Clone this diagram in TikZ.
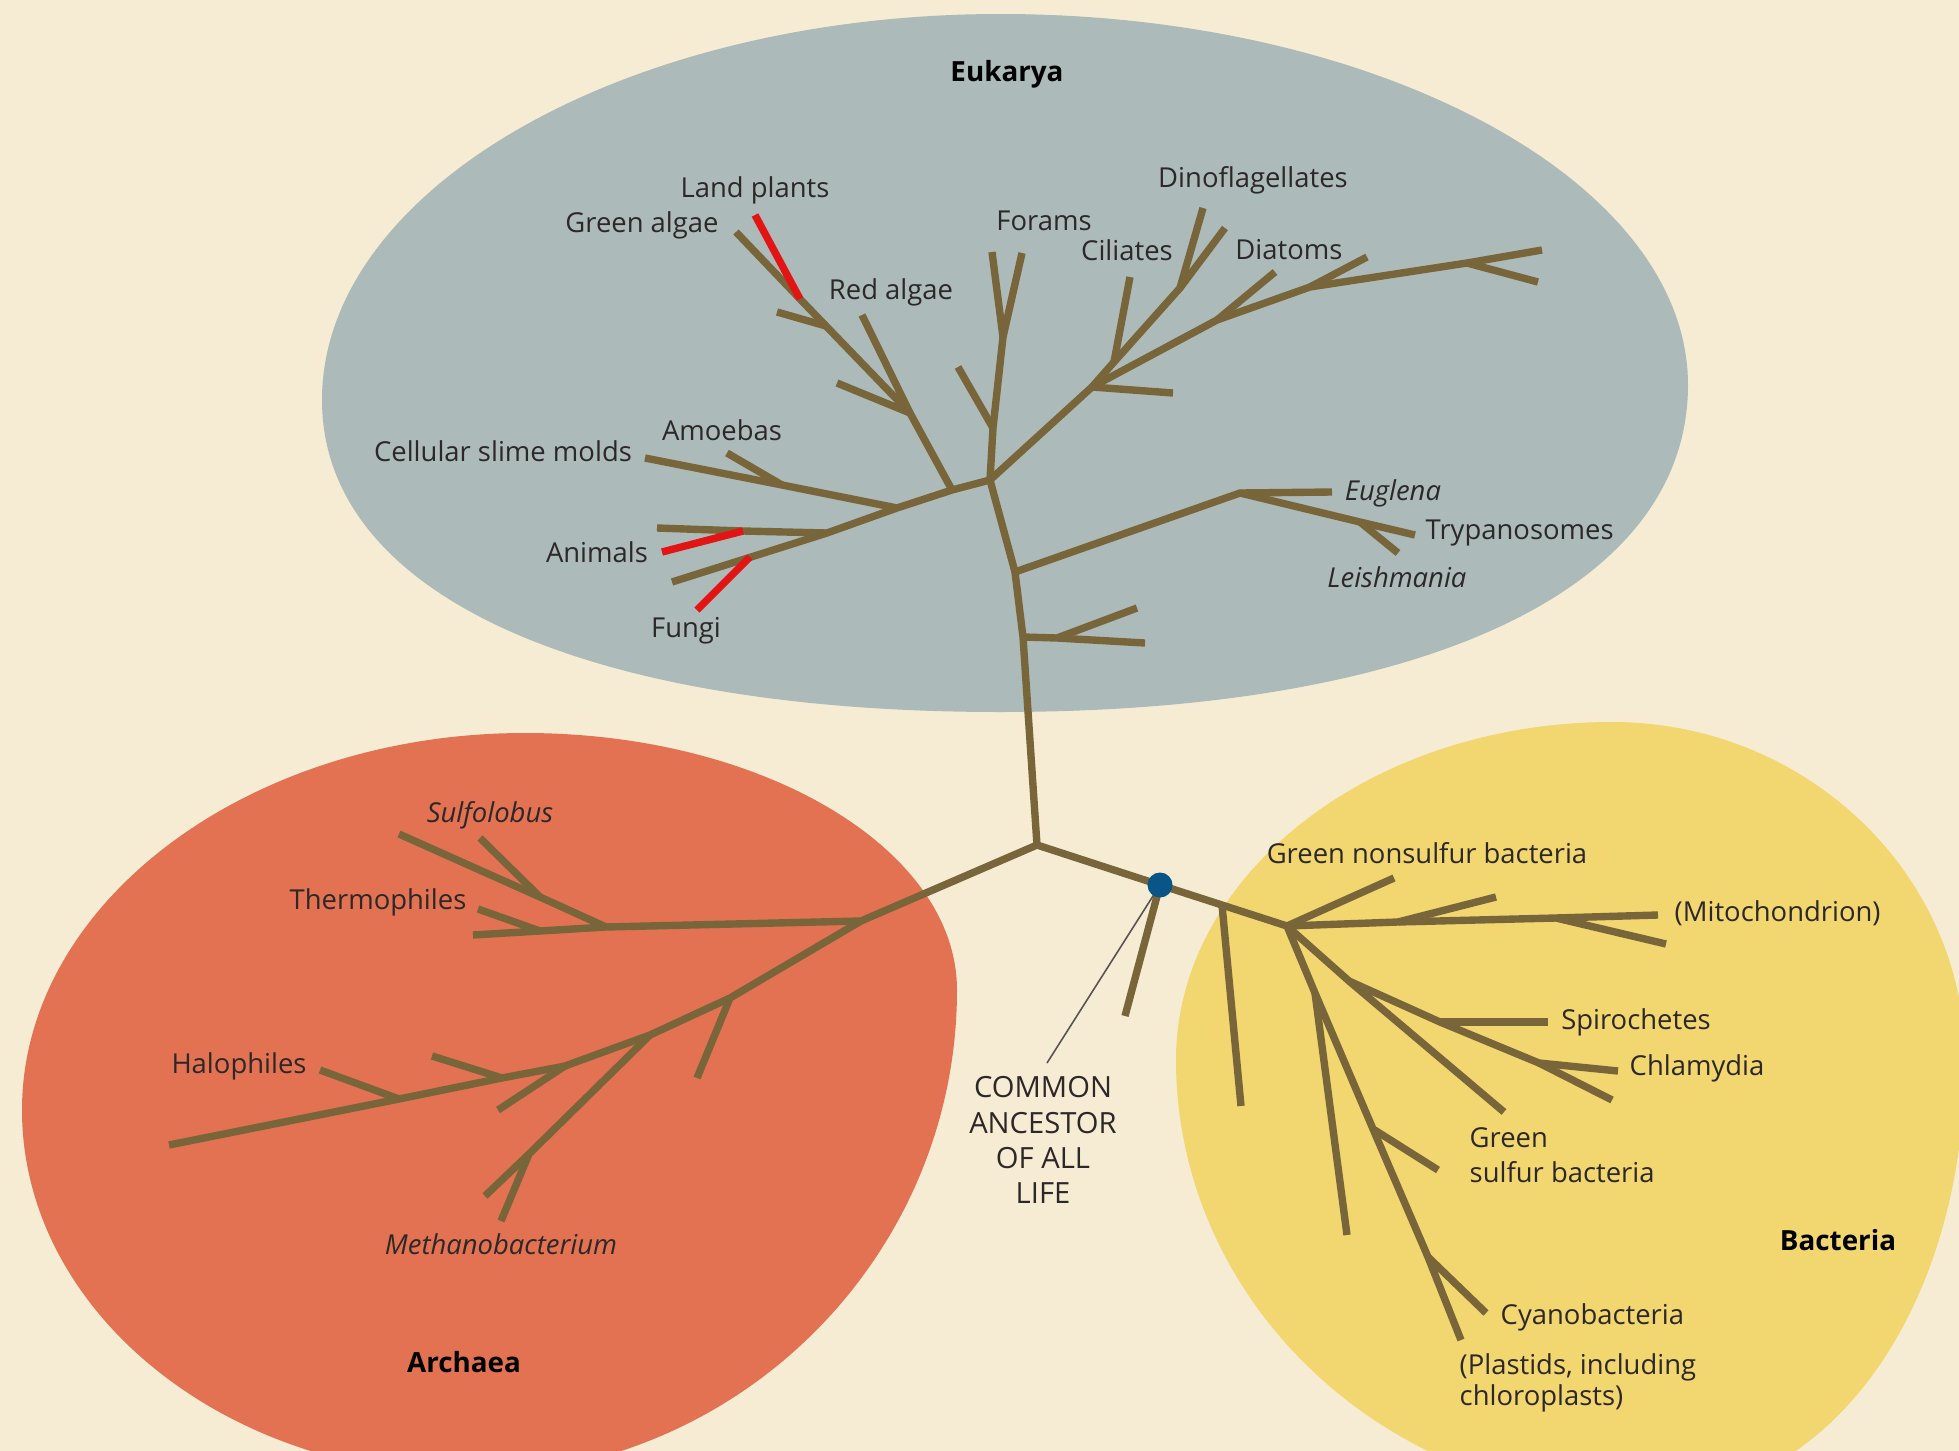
\documentclass[tikz,border=0pt]{standalone}
\usepackage{fontspec}
\setmainfont{Open Sans}
\usepackage{xcolor}
\definecolor{paper}{RGB}{246,236,212}
\definecolor{eukfill}{RGB}{172,186,186}
\definecolor{arcfill}{RGB}{226,114,82}
\definecolor{bacfill}{RGB}{242,214,112}
\definecolor{treebrown}{RGB}{120,102,58}
\definecolor{cladered}{RGB}{226,20,20}
\definecolor{inkgray}{RGB}{45,40,40}
\definecolor{dotblue}{RGB}{10,85,135}

\tikzset{
  branch/.style={draw=treebrown, line width=2.1pt, line join=round},
  redbranch/.style={draw=cladered, line width=2.1pt},
  leader/.style={draw=inkgray!80, line width=0.45pt},
  taxon/.style={text=inkgray, inner sep=0pt, font=\fontsize{7.8}{10}\selectfont},
  genus/.style={taxon, font=\fontsize{7.8}{10}\selectfont\itshape},
  domainlbl/.style={text=black, inner sep=0pt, font=\fontsize{7.9}{10}\selectfont\bfseries},
  ancestor/.style={text=inkgray, inner sep=0pt, align=center, font=\fontsize{8.3}{10}\selectfont},
  dot/.style={circle, fill=dotblue, inner sep=0pt, minimum size=0.25cm}
}

\begin{document}
\begin{tikzpicture}[x=0.01cm, y=-0.01cm]
    % Page and domain blobs
    \useasboundingbox (0,0) rectangle (1959,1451);
    \clip (0,0) rectangle (1959,1451);
    \fill[paper] (0,0) rectangle (1959,1451);
    \fill[eukfill] (1000,14) .. controls (1378,14) and (1688,181) .. (1688,385)
        .. controls (1688,588) and (1427,712) .. (1000,712)
        .. controls (580,712) and (322,593) .. (322,400)
        .. controls (322,188) and (627,14) .. (1000,14) -- cycle;
    \fill[arcfill] (525,733) .. controls (763,733) and (957,849) .. (957,990)
        .. controls (957,1257) and (738,1475) .. (470,1475)
        .. controls (224,1475) and (22,1311) .. (22,1110)
        .. controls (22,903) and (248,733) .. (525,733) -- cycle;
    \fill[bacfill] (1612,722) .. controls (1806,722) and (1965,874) .. (1965,1060)
        .. controls (1965,1302) and (1835,1500) .. (1640,1500)
        .. controls (1385,1500) and (1176,1302) .. (1176,1060)
        .. controls (1176,874) and (1372,722) .. (1612,722) -- cycle;

    % Tree points: trunk
    \coordinate (root) at (1037,845);
    \coordinate (trA) at (1023,637);
    \coordinate (trB) at (1015,572);
    \coordinate (euk) at (990,480);
    % Forams
    \coordinate (forJ) at (993,428);
    \coordinate (forV) at (1003,337);
    \coordinate (forL) at (992,252);
    \coordinate (forR) at (1022,253);
    \coordinate (forS) at (958,367);
    % left limb
    \coordinate (lb1) at (952,490);
    \coordinate (lb2) at (897,508);
    \coordinate (lb3) at (827,533);
    \coordinate (lbEnd) at (672,582);
    \coordinate (raJ) at (910,413);
    \coordinate (raTip) at (862,315);
    \coordinate (raSide) at (837,383);
    \coordinate (gaJ) at (826,326);
    \coordinate (gaSide) at (777,312);
    \coordinate (landJ) at (800,299);
    \coordinate (landTip) at (755,215);
    \coordinate (gaTip) at (736,232);
    \coordinate (amJ) at (782,485);
    \coordinate (amTip) at (727,453);
    \coordinate (smTip) at (645,458);
    \coordinate (anJ) at (743,531);
    \coordinate (anTip) at (657,528);
    \coordinate (anRedTip) at (662,552);
    \coordinate (fuJ) at (750,557);
    \coordinate (fuTip) at (697,610);
    % right limb
    \coordinate (r1) at (1092,387);
    \coordinate (shortTip) at (1173,393);
    \coordinate (ciJ) at (1114,362);
    \coordinate (ciTip) at (1130,277);
    \coordinate (dinoV) at (1180,288);
    \coordinate (dinoTip) at (1203,208);
    \coordinate (dinoTip2) at (1225,228);
    \coordinate (diJ) at (1217,320);
    \coordinate (diTip) at (1275,272);
    \coordinate (di2J) at (1310,287);
    \coordinate (di2Tip) at (1367,257);
    \coordinate (rV) at (1467,263);
    \coordinate (rTip1) at (1542,250);
    \coordinate (rTip2) at (1538,282);
    % Euglena limb and pair
    \coordinate (euJ) at (1240,493);
    \coordinate (euTip) at (1332,492);
    \coordinate (leJ) at (1360,522);
    \coordinate (trTip) at (1415,535);
    \coordinate (leTip) at (1398,553);
    \coordinate (pJ) at (1057,638);
    \coordinate (pTipLow) at (1145,643);
    \coordinate (pTipUp) at (1137,608);
    % Archaea
    \coordinate (arJ) at (861,921);
    \coordinate (suJ) at (606,927);
    \coordinate (thJ) at (540,931);
    \coordinate (thEnd) at (473,935);
    \coordinate (suV) at (540,897);
    \coordinate (suTipL) at (399,834);
    \coordinate (suTipR) at (480,838);
    \coordinate (thTip) at (478,909);
    \coordinate (arD1) at (730,998);
    \coordinate (arD2) at (650,1035);
    \coordinate (arD3) at (565,1066);
    \coordinate (arD4) at (502,1078);
    \coordinate (arD5) at (399,1099);
    \coordinate (arEnd) at (169,1145);
    \coordinate (arS1) at (697,1078);
    \coordinate (meV) at (529,1154);
    \coordinate (meTip) at (501,1221);
    \coordinate (meSide) at (485,1196);
    \coordinate (arS3) at (498,1110);
    \coordinate (arS4) at (432,1056);
    \coordinate (halTip) at (320,1070);
    % Bacteria
    \coordinate (bDot) at (1160,885);
    \coordinate (bStub) at (1125,1016);
    \coordinate (bJ1) at (1222,905);
    \coordinate (bStub1) at (1241,1106);
    \coordinate (bJ) at (1287,926);
    \coordinate (gnsTip) at (1394,878);
    \coordinate (miJ1) at (1398,922);
    \coordinate (miJ2) at (1556,918);
    \coordinate (miTip) at (1658,915);
    \coordinate (miSide1) at (1496,897);
    \coordinate (miSide2) at (1666,944);
    \coordinate (gsJ) at (1349,981);
    \coordinate (gsTip) at (1504,1112);
    \coordinate (spJ) at (1440,1022);
    \coordinate (spTip) at (1548,1022);
    \coordinate (chJ) at (1539,1063);
    \coordinate (chTip1) at (1618,1071);
    \coordinate (chTip2) at (1612,1100);
    \coordinate (cyJa) at (1315,993);
    \coordinate (cySide0) at (1347,1235);
    \coordinate (cyJ1) at (1373,1129);
    \coordinate (cySide1) at (1438,1170);
    \coordinate (cyJ2) at (1428,1257);
    \coordinate (cySide2) at (1486,1313);
    \coordinate (cyTip) at (1461,1340);
    \coordinate (ancTip) at (1047,1063);

    % Eukarya branches
    \draw[branch] (root) -- (trA) -- (trB) -- (euk);
    \draw[branch] (euk) -- (forJ) -- (forV) -- (forL);
    \draw[branch] (forV) -- (forR);
    \draw[branch] (forJ) -- (forS);
    \draw[branch] (euk) -- (lb1) -- (lb2) -- (lb3) -- (lbEnd);
    \draw[branch] (lb1) -- (raJ) -- (raTip);
    \draw[branch] (raJ) -- (gaJ) -- (landJ) -- (gaTip);
    \draw[branch] (raJ) -- (raSide);
    \draw[branch] (gaJ) -- (gaSide);
    \draw[branch] (lb2) -- (amJ) -- (smTip);
    \draw[branch] (amJ) -- (amTip);
    \draw[branch] (lb3) -- (anJ) -- (anTip);
    \draw[branch] (euk) -- (r1) -- (diJ) -- (di2J) -- (rV) -- (rTip1);
    \draw[branch] (rV) -- (rTip2);
    \draw[branch] (di2J) -- (di2Tip);
    \draw[branch] (diJ) -- (diTip);
    \draw[branch] (r1) -- (shortTip);
    \draw[branch] (r1) -- (ciJ) -- (dinoV) -- (dinoTip);
    \draw[branch] (dinoV) -- (dinoTip2);
    \draw[branch] (ciJ) -- (ciTip);
    \draw[branch] (trB) -- (euJ) -- (euTip);
    \draw[branch] (euJ) -- (leJ) -- (trTip);
    \draw[branch] (leJ) -- (leTip);
    \draw[branch] (trA) -- (pJ) -- (pTipLow);
    \draw[branch] (pJ) -- (pTipUp);
    % red clades
    \draw[redbranch] (landJ) -- (landTip);
    \draw[redbranch] (anJ) -- (anRedTip);
    \draw[redbranch] (fuJ) -- (fuTip);

    % Archaea branches
    \draw[branch] (root) -- (arJ) -- (suJ) -- (thJ) -- (thEnd);
    \draw[branch] (suJ) -- (suV) -- (suTipL);
    \draw[branch] (suV) -- (suTipR);
    \draw[branch] (thJ) -- (thTip);
    \draw[branch] (arJ) -- (arD1) -- (arD2) -- (arD3) -- (arD4) -- (arD5) -- (arEnd);
    \draw[branch] (arD1) -- (arS1);
    \draw[branch] (arD2) -- (meV) -- (meTip);
    \draw[branch] (meV) -- (meSide);
    \draw[branch] (arD3) -- (arS3);
    \draw[branch] (arD4) -- (arS4);
    \draw[branch] (arD5) -- (halTip);

    % Bacteria branches
    \draw[branch] (root) -- (bDot) -- (bJ1) -- (bJ);
    \draw[branch] (bDot) -- (bStub);
    \draw[branch] (bJ1) -- (bStub1);
    \draw[branch] (bJ) -- (gnsTip);
    \draw[branch] (bJ) -- (miJ1) -- (miJ2) -- (miTip);
    \draw[branch] (miJ1) -- (miSide1);
    \draw[branch] (miJ2) -- (miSide2);
    \draw[branch] (bJ) -- (gsJ) -- (gsTip);
    \draw[branch] (gsJ) -- (spJ) -- (chJ) -- (chTip1);
    \draw[branch] (chJ) -- (chTip2);
    \draw[branch] (spJ) -- (spTip);
    \draw[branch] (bJ) -- (cyJa) -- (cyJ1) -- (cyJ2) -- (cyTip);
    \draw[branch] (cyJa) -- (cySide0);
    \draw[branch] (cyJ1) -- (cySide1);
    \draw[branch] (cyJ2) -- (cySide2);

    % common ancestor
    \draw[leader] (bDot) -- (ancTip);
    \node[dot] (ancDot) at (bDot) {};
    \node[ancestor] (common) at (1043,1140) {COMMON\\ANCESTOR\\OF ALL\\LIFE};

    % Labels
    \node[domainlbl] (eukarya) at (1007,74) {Eukarya};
    \node[domainlbl] (archaea) at (464,1362) {Archaea};
    \node[domainlbl] (bacteria) at (1838,1240) {Bacteria};

    \node[taxon] (landplants) at (755,190) {Land plants};
    \node[taxon] (greenalgae) at (642,225) {Green algae};
    \node[taxon] (redalgae) at (891,292) {Red algae};
    \node[taxon] (forams) at (1044,221) {Forams};
    \node[taxon] (ciliates) at (1127,250) {Ciliates};
    \node[taxon] (dinoflag) at (1253,180) {Dinoflagellates};
    \node[taxon] (diatoms) at (1289,250) {Diatoms};
    \node[taxon] (amoebas) at (722,430) {Amoebas};
    \node[taxon] (slimemolds) at (503,451) {Cellular slime molds};
    \node[taxon] (animals) at (597,552) {Animals};
    \node[taxon] (fungi) at (686,631) {Fungi};
    \node[genus] (euglena) at (1393,493) {Euglena};
    \node[taxon, anchor=west] (trypano) at (1425,533) {Trypanosomes};
    \node[genus] (leish) at (1397,577) {Leishmania};

    \node[genus] (sulfolobus) at (490,815) {Sulfolobus};
    \node[taxon] (thermo) at (378,902) {Thermophiles};
    \node[taxon] (halo) at (239,1066) {Halophiles};
    \node[genus] (methano) at (501,1244) {Methanobacterium};

    \node[taxon] (greennon) at (1427,853) {Green nonsulfur bacteria};
    \node[taxon, anchor=west] (mito) at (1674,913) {(Mitochondrion)};
    \node[taxon] (spiro) at (1636,1022) {Spirochetes};
    \node[taxon, anchor=west] (chlamydia) at (1629,1068) {Chlamydia};
    \node[taxon, align=left, anchor=west] (greensulfur) at (1469,1155) {Green\\sulfur bacteria};
    \node[taxon, anchor=west] (cyano) at (1500,1317) {Cyanobacteria};
    \node[taxon, align=left, anchor=west, font=\fontsize{7.8}{8.9}\selectfont] (plastids) at (1459,1383) {(Plastids, including\\chloroplasts)};
\end{tikzpicture}
\end{document}
